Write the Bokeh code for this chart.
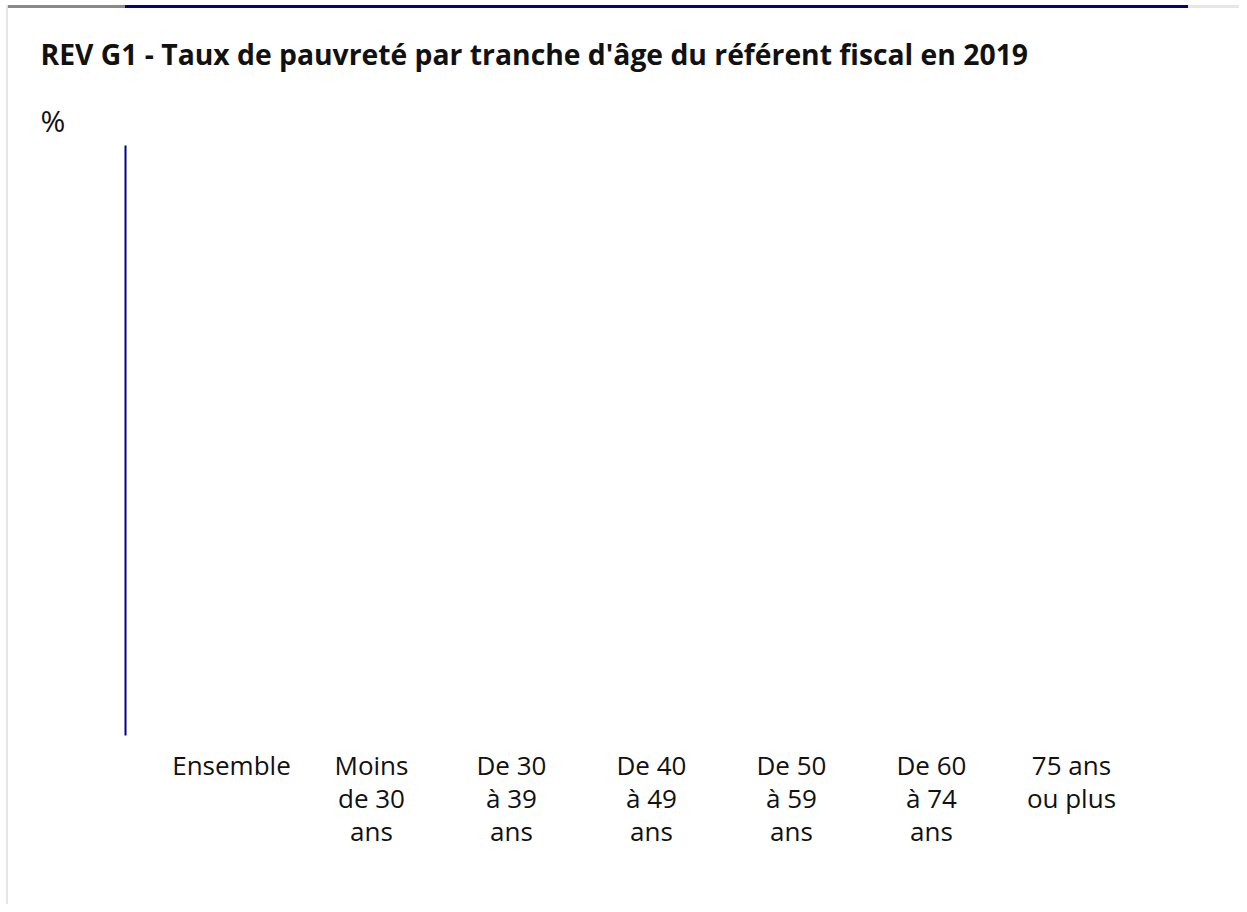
import numpy as np
from bokeh.plotting import figure
from bokeh.models import Range1d, FixedTicker, Title, Div, ColumnDataSource
from bokeh.layouts import column
from bokeh.embed import file_html
from bokeh.resources import INLINE

# ---- data ----
title_text = "REV G1 - Taux de pauvreté par tranche d'âge du référent fiscal en 2019"
unit_text = "%"
categories = [
    "Ensemble",
    "Moins\nde 30\nans",
    "De 30\nà 39\nans",
    "De 40\nà 49\nans",
    "De 50\nà 59\nans",
    "De 60\nà 74\nans",
    "75 ans\nou plus",
]
# no bar is visible in the reference picture: values unreadable / empty
values = [None, None, None, None, None, None, None]

positions = list(range(len(categories)))
tops = np.array([np.nan if v is None else v for v in values], dtype=float)
source = ColumnDataSource(dict(x=positions, top=tops))

BLUE = "#000091"
TEXT = "#111111"
FONT = "Open Sans"

W, H = 1231, 896
p = figure(
    width=W, height=H,
    x_range=Range1d(-0.757, 6.836), y_range=Range1d(0, 25),
    output_backend="svg", toolbar_location=None, tools="",
    min_border_left=117, min_border_right=51,
    min_border_top=137, min_border_bottom=169,
)
p.outline_line_color = None
p.background_fill_color = "white"
p.border_fill_color = "white"
p.xgrid.visible = False
p.ygrid.visible = False

p.title.text = title_text
p.title.align = "left"
p.title.offset = -85
p.title.text_font = FONT
p.title.text_font_size = "28.3px"
p.title.text_font_style = "bold"
p.title.text_color = TEXT
p.title.standoff = 39

p.add_layout(Title(text=unit_text, align="left", offset=-85, text_font=FONT,
                   text_font_size="30px", text_font_style="normal",
                   text_color=TEXT, standoff=10), "above")

p.vbar(x="x", top="top", bottom=0, width=0.6, source=source,
       fill_color=BLUE, line_color=None)

# x axis
xa = p.xaxis[0]
xa.ticker = FixedTicker(ticks=positions)
xa.major_label_overrides = {i: c for i, c in zip(positions, categories)}
xa.axis_line_color = None
xa.major_tick_line_color = None
xa.minor_tick_line_color = None
xa.major_label_text_font = FONT
xa.major_label_text_font_size = "26px"
xa.major_label_text_color = TEXT
xa.major_label_text_line_height = 0.92
xa.major_label_standoff = 5

# y axis
ya = p.yaxis[0]
ya.ticker = FixedTicker(ticks=[])
ya.axis_line_color = BLUE
ya.axis_line_width = 2
ya.major_tick_line_color = None
ya.minor_tick_line_color = None
ya.major_label_text_font_size = "0px"

bar = Div(text="", width=W, height=3, margin=0, styles={
    "background": "linear-gradient(to right, #8a8a8a 0px 117px, #000091 117px 1180px, #e6e6e6 1180px)"
})

layout = column(bar, p, spacing=0, styles={
    "margin": "5px 0px 0px 6px",
    "border-left": "2px solid #e6e6e6",
})

open("out.html", "w").write(file_html(layout, INLINE))
